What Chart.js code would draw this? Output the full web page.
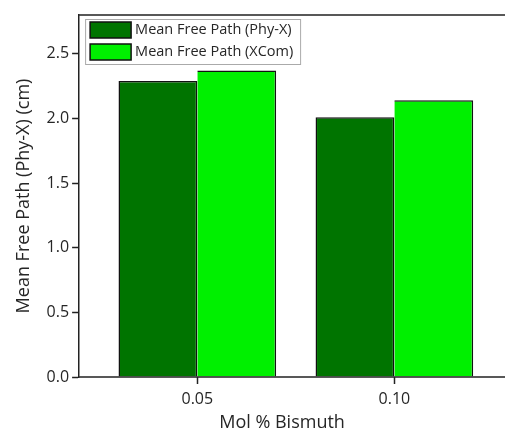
<!DOCTYPE html>
<html>
<head>
<meta charset="utf-8">
<script src="https://cdn.jsdelivr.net/npm/chart.js@4/dist/chart.umd.min.js"></script>
<style>
  html, body { margin: 0; padding: 0; background: #fff; overflow: hidden; }
  canvas { display: block; }
</style>
</head>
<body>
<canvas id="chart" width="505" height="430"></canvas>
<script>
// DATA
const molBismuth = [0.05, 0.10];
const mfpPhyX = [2.29, 2.01];
const mfpXCom = [2.37, 2.14];
const seriesNames = ['Mean Free Path (Phy-X)', 'Mean Free Path (XCom)'];
const yTicks = [0, 0.5, 1.0, 1.5, 2.0, 2.5];

const FONT = '"Open Sans", "Noto Sans", sans-serif';
const TEXT = '#262626';

function toPoints(values){
	return molBismuth.map((x, i) => ({ x: x, y: values[i] }));
}

// FRAME (top and bottom run on to the right edge) + BOXED LEGEND
const framePlugin = {
	id: 'frame',
	afterDraw(chart){
		const c = chart.ctx, a = chart.chartArea;
		c.save();
		c.strokeStyle = '#222';
		c.lineWidth = 1.5;
		c.beginPath();
		c.moveTo(a.left, a.top);
		c.lineTo(chart.width, a.top);
		c.moveTo(a.left, a.bottom);
		c.lineTo(chart.width, a.bottom);
		c.stroke();

		// legend
		const x0 = a.left + 6, y0 = a.top + 4;
		c.fillStyle = '#fff';
		c.fillRect(x0, y0, 215, 45);
		c.strokeStyle = '#aaa';
		c.lineWidth = 1;
		c.strokeRect(x0 + 0.5, y0 + 0.5, 215, 45);
		c.font = '14.5px ' + FONT;
		c.textBaseline = 'middle';
		chart.data.datasets.forEach((ds, i) => {
			const sy = y0 + 3 + i * 22;
			c.fillStyle = ds.backgroundColor;
			c.fillRect(x0 + 5, sy, 41, 16);
			c.strokeStyle = '#111';
			c.lineWidth = 1.5;
			c.strokeRect(x0 + 5, sy, 41, 16);
			c.fillStyle = TEXT;
			c.fillText(ds.label, x0 + 50, sy + 8);
		});
		c.restore();
	}
};

const ctx = document.getElementById('chart').getContext('2d');

new Chart(ctx, {
	type: 'bar',
	data: {
		datasets: [{
			label: seriesNames[0],
			data: toPoints(mfpPhyX),
			backgroundColor: '#007400',
			borderColor: '#111',
			borderWidth: 1.5
		},{
			label: seriesNames[1],
			data: toPoints(mfpXCom),
			backgroundColor: '#00f000',
			borderColor: '#111',
			borderWidth: { top: 1.5, right: 1.5, left: 0, bottom: 0 }
		}]
	},
	options: {
		responsive: false,
		animation: false,
		categoryPercentage: 0.8,
		barPercentage: 1.0,
		layout: { padding: { left: 13, top: 15, right: 20, bottom: -4 } },
		plugins: {
			legend: { display: false },
			tooltip: { enabled: false }
		},
		scales: {
			x: {
				type: 'linear',
				min: 0.02,
				max: 0.1230,
				offset: false,
				afterBuildTicks(axis){
					axis.ticks = molBismuth.map(v => ({ value: v }));
				},
				grid: { display: true, drawOnChartArea: false, drawTicks: true, tickLength: 7, tickColor: '#222', tickWidth: 1.5, offset: false },
				border: { display: false },
				ticks: {
					color: TEXT,
					font: { family: FONT, size: 16, lineHeight: 1 },
					padding: 7,
					maxRotation: 0,
					callback: v => v.toFixed(2)
				},
				title: {
					display: true,
					text: 'Mol % Bismuth',
					color: TEXT,
					font: { family: FONT, size: 18, lineHeight: 1 },
					padding: { top: 0, bottom: 2 }
				}
			},
			y: {
				min: 0,
				max: 2.8,
				afterBuildTicks(axis){
					axis.ticks = yTicks.map(v => ({ value: v }));
				},
				grid: { display: true, drawOnChartArea: false, drawTicks: true, tickLength: 7, tickColor: '#222', tickWidth: 1.5 },
				border: { display: true, color: '#222', width: 1.5 },
				ticks: {
					color: TEXT,
					font: { family: FONT, size: 16 },
					padding: 3,
					callback: v => v.toFixed(1)
				},
				title: {
					display: true,
					text: 'Mean Free Path (Phy-X) (cm)',
					color: TEXT,
					font: { family: FONT, size: 18 },
					padding: { top: 0, bottom: 9 }
				}
			}
		}
	},
	plugins: [framePlugin]
});
</script>
</body>
</html>
